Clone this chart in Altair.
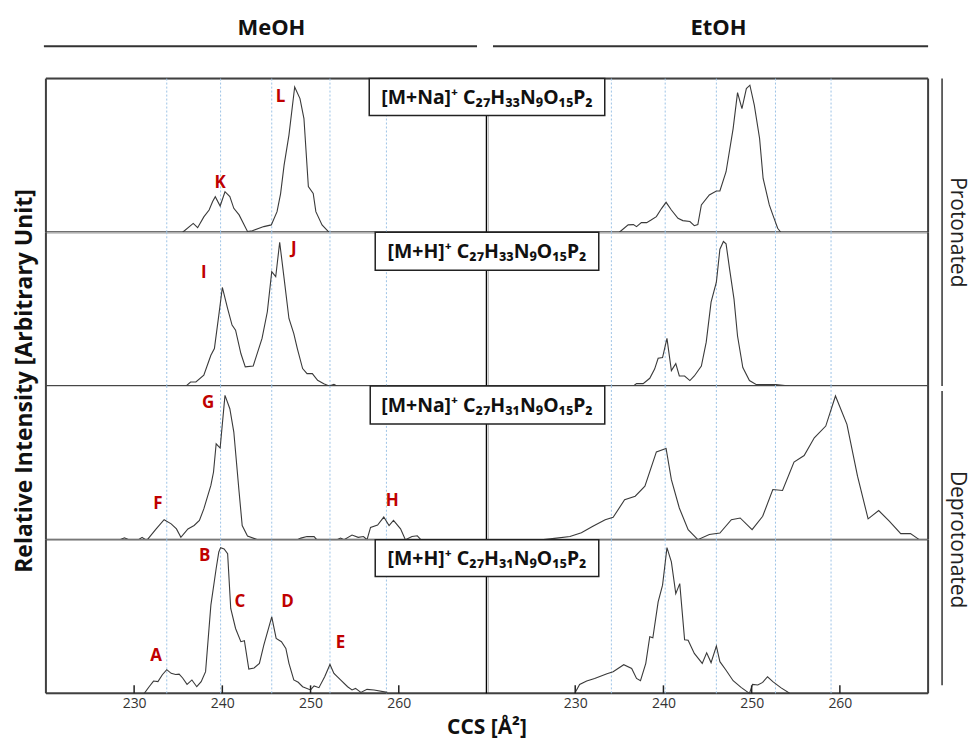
import altair as alt
import pandas as pd

# ---------------- data (CCS in Å², relative intensity 0..1) ----------------
# Row 1: [M+Na]+ C27H33N9O15P2 (protonated)
MEOH_NA_PROT_CCS = [235.5, 236.7, 237.2, 237.9, 238.5, 238.9, 239.2, 239.75, 240.3, 240.85,
                    241.3, 241.9, 242.85, 243.4, 244.7, 245.55, 246.2, 246.6, 247.0, 247.55,
                    248.2, 248.8, 249.25, 249.75, 250.3, 250.6, 251.3, 252.1]
MEOH_NA_PROT_INT = [0.0, 0.058, 0.03, 0.10, 0.145, 0.20, 0.232, 0.171, 0.264, 0.232,
                    0.156, 0.113, 0.005, 0.01, 0.037, 0.048, 0.134, 0.25, 0.437, 0.632,
                    0.946, 0.87, 0.74, 0.297, 0.253, 0.134, 0.048, 0.0]
ETOH_NA_PROT_CCS = [235.0, 236.0, 236.6, 236.95, 237.5, 238.1, 238.6, 239.2, 239.8, 240.3,
                    240.9, 241.65, 242.2, 243.0, 243.5, 243.9, 244.3, 245.2, 246.0, 246.4,
                    247.1, 247.9, 248.4, 248.9, 249.4, 249.8, 250.3, 250.9, 251.3, 252.0,
                    252.4, 252.95, 253.3]
ETOH_NA_PROT_INT = [0.0, 0.048, 0.05, 0.037, 0.063, 0.063, 0.08, 0.102, 0.156, 0.195,
                    0.145, 0.091, 0.076, 0.07, 0.043, 0.05, 0.178, 0.243, 0.269, 0.269,
                    0.394, 0.675, 0.909, 0.805, 0.935, 0.957, 0.827, 0.61, 0.35, 0.178,
                    0.113, 0.026, 0.0]
# Row 2: [M+H]+ C27H33N9O15P2 (protonated)
MEOH_H_PROT_CCS = [235.9, 236.4, 237.0, 237.9, 238.7, 239.1, 239.6, 240.0, 240.6, 241.1,
                   241.5, 242.1, 242.6, 243.5, 244.5, 245.1, 245.6, 246.05, 246.5, 247.0,
                   247.55, 248.1, 248.5, 249.1, 249.6, 250.2, 250.8, 251.5, 252.1, 252.65,
                   253.0]
MEOH_H_PROT_INT = [0.0, 0.026, 0.026, 0.07, 0.2, 0.243, 0.461, 0.641, 0.504, 0.396,
                   0.363, 0.211, 0.124, 0.13, 0.309, 0.483, 0.744, 0.711, 0.935, 0.70,
                   0.439, 0.341, 0.243, 0.113, 0.08, 0.08, 0.037, 0.015, 0.0, 0.01,
                   0.0]
ETOH_H_PROT_CCS = [236.6, 236.95, 237.7, 238.45, 239.0, 239.4, 239.9, 240.4, 240.9, 241.4,
                   241.8, 242.4, 243.0, 243.5, 244.3, 244.85, 245.4, 246.0, 246.4, 246.8,
                   247.1, 247.5, 248.0, 248.4, 249.0, 249.75, 250.5, 251.6, 252.75, 254.3]
ETOH_H_PROT_INT = [0.0, 0.015, 0.015, 0.05, 0.11, 0.18, 0.185, 0.31, 0.10, 0.145,
                   0.065, 0.065, 0.035, 0.065, 0.13, 0.285, 0.545, 0.675, 0.89, 0.94,
                   0.925, 0.76, 0.565, 0.325, 0.12, 0.035, 0.01, 0.01, 0.01, 0.0]
# Row 3: [M+Na]+ C27H31N9O15P2 (deprotonated)
MEOH_NA_DEPROT_CCS = [228.4, 228.9, 229.4, 230.5, 230.9, 231.3, 231.5, 232.5, 233.4, 234.2,
                      234.8, 235.3, 236.1, 236.8, 237.4, 237.9, 238.7, 239.0, 239.3, 239.75,
                      240.3, 240.85, 241.3, 241.9, 242.25, 242.85, 244.0, 248.5, 248.9, 249.6,
                      250.4, 250.7, 253.0, 253.4, 253.8, 254.7, 255.4, 256.0, 256.4, 256.8,
                      257.6, 258.3, 258.9, 259.4, 260.2, 260.75, 261.5, 262.1, 262.5]
MEOH_NA_DEPROT_INT = [0.0, 0.012, 0.0, 0.0, 0.015, 0.0, 0.0, 0.07, 0.13, 0.103,
                      0.07, 0.015, 0.07, 0.092, 0.125, 0.2, 0.353, 0.44, 0.624, 0.596,
                      0.939, 0.852, 0.70, 0.31, 0.092, 0.023, 0.0, 0.0, 0.01, 0.02,
                      0.02, 0.0, 0.0, 0.01, 0.0, 0.03, 0.015, 0.02, 0.0, 0.08,
                      0.095, 0.147, 0.092, 0.125, 0.07, 0.0, 0.02, 0.025, 0.0]
ETOH_NA_DEPROT_CCS = [226.4, 227.9, 229.4, 230.7, 232.0, 233.4, 234.3, 235.6, 236.8, 237.9,
                      239.2, 240.3, 240.9, 241.8, 242.8, 243.9, 245.2, 246.4, 247.7, 248.7,
                      250.05, 251.25, 252.4, 253.5, 254.8, 255.95, 257.1, 258.4, 259.5, 260.8,
                      262.0, 263.2, 264.4, 265.6, 266.9, 268.0, 269.0]
ETOH_NA_DEPROT_INT = [0.0, 0.01, 0.02, 0.045, 0.087, 0.13, 0.145, 0.26, 0.283, 0.348,
                      0.571, 0.593, 0.39, 0.206, 0.065, 0.0, 0.033, 0.043, 0.13, 0.141,
                      0.065, 0.152, 0.326, 0.32, 0.505, 0.547, 0.663, 0.739, 0.935, 0.75,
                      0.413, 0.135, 0.189, 0.12, 0.039, 0.039, 0.0]
# Row 4: [M+H]+ C27H31N9O15P2 (deprotonated)
MEOH_H_DEPROT_CCS = [231.15, 231.7, 232.2, 232.7, 233.2, 233.7, 234.2, 234.7, 235.1, 235.5,
                     236.0, 236.55, 237.1, 237.6, 238.1, 238.7, 239.3, 239.6, 239.8, 240.2,
                     240.6, 240.95, 241.5, 242.1, 242.5, 243.0, 243.6, 244.2, 244.7, 245.6,
                     246.1, 246.7, 247.2, 247.55, 248.1, 248.6, 249.1, 250.0, 250.4, 250.95,
                     251.6, 252.2, 252.65, 253.4, 254.2, 254.7, 255.1, 255.7, 256.4, 257.2,
                     258.7]
MEOH_H_DEPROT_INT = [0.0, 0.043, 0.08, 0.076, 0.121, 0.154, 0.13, 0.123, 0.125, 0.10,
                     0.058, 0.087, 0.043, 0.076, 0.141, 0.574, 0.812, 0.92, 0.948, 0.94,
                     0.909, 0.552, 0.422, 0.336, 0.342, 0.158, 0.165, 0.195, 0.314, 0.498,
                     0.357, 0.336, 0.292, 0.195, 0.087, 0.072, 0.043, 0.022, 0.048, 0.037,
                     0.108, 0.188, 0.13, 0.087, 0.043, 0.022, 0.032, 0.006, 0.026, 0.022,
                     0.006]
ETOH_H_DEPROT_CCS = [229.95, 230.5, 231.3, 232.2, 233.6, 234.3, 235.5, 236.4, 236.95, 237.4,
                     238.0, 238.45, 238.8, 239.4, 239.9, 240.2, 240.4, 240.9, 241.4, 241.85,
                     242.4, 242.8, 243.5, 244.4, 244.9, 245.4, 246.0, 246.4, 247.1, 247.9,
                     248.8, 249.75, 250.1, 250.7, 251.25, 251.8, 252.4, 253.3, 254.3]
ETOH_H_DEPROT_INT = [0.0, 0.058, 0.08, 0.097, 0.128, 0.141, 0.186, 0.162, 0.097, 0.082,
                     0.195, 0.368, 0.361, 0.595, 0.704, 0.85, 0.948, 0.855, 0.649, 0.714,
                     0.349, 0.345, 0.26, 0.195, 0.264, 0.2, 0.308, 0.206, 0.15, 0.082,
                     0.039, 0.0, 0.058, 0.054, 0.071, 0.108, 0.076, 0.037, 0.0]

# dotted reference lines (CCS)
MEOH_GUIDES = [233.7, 239.8, 245.6, 252.2, 258.6]
ETOH_GUIDES = [234.1, 240.2, 246.0, 252.7, 259.0]

# peak letters (MeOH panels)
PEAK_LETTERS = [["L", "K"], ["I", "J"], ["G", "F", "H"], ["B", "C", "D", "E", "A"]]
PEAK_CCS = [[246.6, 239.75], [237.9, 248.1], [238.4, 232.7, 259.25], [238.0, 242.0, 247.4, 253.4, 232.5]]
PEAK_INT = [[0.881, 0.318], [0.733, 0.889], [0.891, 0.230, 0.252], [0.894, 0.591, 0.591, 0.329, 0.243]]

ION_LABELS = ["[M+Na]⁺ C₂₇H₃₃N₉O₁₅P₂", "[M+H]⁺ C₂₇H₃₃N₉O₁₅P₂",
              "[M+Na]⁺ C₂₇H₃₁N₉O₁₅P₂", "[M+H]⁺ C₂₇H₃₁N₉O₁₅P₂"]
SOLVENTS = ["MeOH", "EtOH"]
STATES = ["Protonated", "Deprotonated"]
TICKS = [230, 240, 250, 260]

CURVES = {
    (0, 0): (MEOH_NA_PROT_CCS, MEOH_NA_PROT_INT), (0, 1): (ETOH_NA_PROT_CCS, ETOH_NA_PROT_INT),
    (1, 0): (MEOH_H_PROT_CCS, MEOH_H_PROT_INT), (1, 1): (ETOH_H_PROT_CCS, ETOH_H_PROT_INT),
    (2, 0): (MEOH_NA_DEPROT_CCS, MEOH_NA_DEPROT_INT), (2, 1): (ETOH_NA_DEPROT_CCS, ETOH_NA_DEPROT_INT),
    (3, 0): (MEOH_H_DEPROT_CCS, MEOH_H_DEPROT_INT), (3, 1): (ETOH_H_DEPROT_CCS, ETOH_H_DEPROT_INT),
}

# ---------------- layout ----------------
W, H = 442, 154
PAD_L, PAD_T = 45, 77
PAD_R, PAD_B = 972 - PAD_L - 2 * W, 739 - PAD_T - 4 * H
# ion box: left/right edge relative to the centre divider, and height (px)
BOX = [(-118, 118, 37), (-112, 112, 38), (-117, 118, 38), (-112, 112, 37)]
FONT = "Open Sans"
FRAME = "#404040"


def one(text):
    return pd.DataFrame({"t": [text]})


def rule(x, x2, y, y2, color=FRAME, width=2):
    return alt.Chart(one("")).mark_rule(color=color, strokeWidth=width).encode(
        x=alt.value(x), x2=alt.value(x2), y=alt.value(y), y2=alt.value(y2))


def anchor(x, y):
    # invisible 1px marker that pins the page corners
    return alt.Chart(one("")).mark_rect(opacity=0).encode(
        x=alt.value(x), x2=alt.value(x + 1), y=alt.value(y), y2=alt.value(y + 1))


def label(text, x, y, size, weight="bold", angle=0, color="#111", font=FONT):
    return alt.Chart(one(text)).mark_text(
        fontSize=size, fontWeight=weight, angle=angle, color=color, font=font,
        align="center", baseline="middle").encode(
        x=alt.value(x), y=alt.value(y), text="t:N")


def panel(row, col):
    ccs, inten = CURVES[(row, col)]
    df = pd.DataFrame({"ccs": ccs, "inten": inten})
    xscale = alt.Scale(domain=[220, 270], nice=False, zero=False)
    yscale = alt.Scale(domain=[0, 1], nice=False, zero=False)
    if row == 3:
        xaxis = alt.Axis(values=TICKS, ticks=False, domain=False, grid=False, title=None,
                         labelFontSize=14, labelColor="#333", labelPadding=3, labelFont=FONT)
    else:
        xaxis = None
    x = alt.X("ccs:Q", scale=xscale, axis=xaxis)
    y = alt.Y("inten:Q", scale=yscale, axis=None)
    bx0, bx1, bh = BOX[row]

    layers = []
    # frame lines
    layers.append(rule(0, W, H, H))
    if row == 0:
        layers.append(rule(0, W, 0, 0))
    if col == 0:
        layers.append(rule(0, 0, 0, H))
        layers.append(rule(W, W, bh, H, color="#000", width=2.5))
    else:
        layers.append(rule(W, W, 0, H))

    guides = MEOH_GUIDES if col == 0 else ETOH_GUIDES
    layers.append(alt.Chart(pd.DataFrame({"ccs": guides})).mark_rule(
        color="#9dc3e6", strokeDash=[2, 2], strokeWidth=1).encode(x=x))

    layers.append(alt.Chart(df).mark_line(color="#3a3a3a", strokeWidth=1.1).encode(x=x, y=y))

    if row == 3:
        layers.append(alt.Chart(pd.DataFrame({"ccs": TICKS})).mark_rule(color="#222", strokeWidth=1.5).encode(
            x=x, y=alt.value(H - 8), y2=alt.value(H)))

    if col == 0:
        ldf = pd.DataFrame({"ccs": PEAK_CCS[row], "inten": PEAK_INT[row], "t": PEAK_LETTERS[row]})
        layers.append(alt.Chart(ldf).mark_text(color="#c00000", fontWeight="bold", fontSize=17,
                                               font=FONT).encode(x=x, y=y, text="t:N"))

    # ion box straddling the centre divider (drawn with the right-hand panel, on top)
    if col == 1:
        layers.append(alt.Chart(one("")).mark_rect(fill="white", stroke="#222", strokeWidth=1.5).encode(
            x=alt.value(bx0), x2=alt.value(bx1), y=alt.value(0), y2=alt.value(bh)))
        layers.append(label(ION_LABELS[row], 0, bh / 2 + 1, 19.5, color="#111", font="Noto Sans"))

    # decorations outside the panels
    if row == 0:
        layers.append(label(SOLVENTS[col], 226 if col == 0 else 232, -51, 22))
        if col == 0:
            layers.append(rule(-2, 432, -32.5, -32.5, color="#333", width=2))
            layers.append(anchor(-PAD_L, -PAD_T))
        else:
            layers.append(rule(6, 442, -32.5, -32.5, color="#333", width=2))
    if col == 1 and row in (0, 2):
        layers.append(label(STATES[row // 2], 471, H, 21, weight="normal", angle=90, color="#222"))
        y_start = 0 if row == 0 else 5
        layers.append(rule(456, 456, y_start, 2 * H - (0 if row == 0 else 8), color="#333", width=1.5))
    if col == 0 and row == 1:
        layers.append(label("Relative Intensity [Arbitrary Unit]", -21, H - 5, 23, angle=270))
    if col == 0 and row == 3:
        layers.append(label("CCS [Å²]", W, 189, 21))
    if col == 1 and row == 3:
        layers.append(anchor(W + PAD_R - 1, H + PAD_B - 1))

    return alt.layer(*layers).properties(width=W, height=H)


panels = [panel(r, c) for r in range(4) for c in range(2)]
chart = alt.concat(*panels, columns=2, spacing=0, bounds="flush").properties(
    padding=0,
    background="white",
).configure_view(stroke="transparent", strokeWidth=0).configure(font=FONT)

chart.save("out.html", embed_options={"renderer": "svg", "actions": False})
